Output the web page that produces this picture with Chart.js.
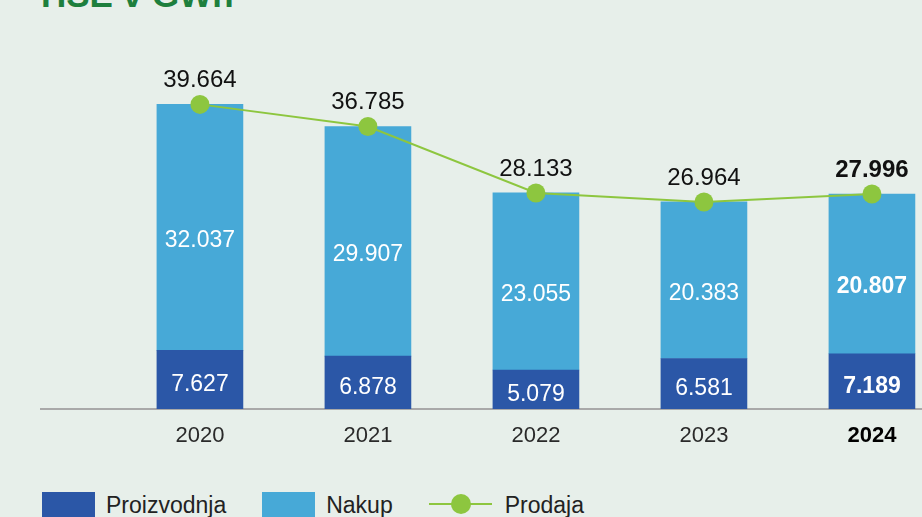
<!DOCTYPE html>
<html>
<head>
<meta charset="utf-8">
<script src="https://cdn.jsdelivr.net/npm/chart.js@4.4.1/dist/chart.umd.min.js"></script>
<style>
  html, body { margin: 0; padding: 0; }
  body { width: 922px; height: 517px; overflow: hidden; background: #e7efea; position: relative;
         font-family: "Liberation Sans", Arial, Helvetica, sans-serif; }
  #title { position: absolute; left: 41px; top: -22.6px; font-size: 35px; line-height: 35px; font-weight: bold;
           color: #1e7f3d; white-space: nowrap; }
  #wrap { position: absolute; left: 0; top: 0; width: 922px; height: 460px; }
  #legend { position: absolute; left: 42px; top: 492px; display: flex; align-items: flex-start; gap: 36px;
            font-size: 23px; color: #222; white-space: nowrap; }
  .item { display: flex; align-items: flex-start; }
  .box { width: 53px; height: 32px; margin-right: 11px; }
  .sym { position: relative; width: 63px; height: 24px; margin-right: 13px; }
  .sym .ln { position: absolute; left: 0; right: 0; top: 11px; height: 2px; }
  .sym .pt { position: absolute; left: 22px; top: 2px; width: 20px; height: 20px; border-radius: 50%; }
  .txt { line-height: 26px; margin-top: 0px; }
</style>
</head>
<body>
<div id="title">HSE v GWh</div>
<div id="wrap"><canvas id="c" width="922" height="460"></canvas></div>
<div id="legend"></div>
<script>
// ---- data ----
const years = [2020, 2021, 2022, 2023, 2024];
const proizvodnja = [7627, 6878, 5079, 6581, 7189];
const nakup = [32037, 29907, 23055, 20383, 20807];
const prodaja = [39664, 36785, 28133, 26964, 27996];
const seriesNames = ['Proizvodnja', 'Nakup', 'Prodaja'];
const highlightYear = 2024;

// ---- styles ----
const DARK = '#2b57a7', LIGHT = '#47a9d7', GREEN = '#8dc63f';
const FONT = '"Liberation Sans", Arial, Helvetica, sans-serif';

const fmt = n => String(n).replace(/\B(?=(\d{3})+(?!\d))/g, '.');
const pts = arr => years.map((y, i) => ({ x: y, y: arr[i] }));

const labelPlugin = {
  id: 'valueLabels',
  afterDatasetsDraw(chart) {
    const ctx = chart.ctx;
    ctx.save();
    ctx.textAlign = 'center';
    ctx.textBaseline = 'middle';
    chart.data.datasets.forEach((ds, di) => {
      const meta = chart.getDatasetMeta(di);
      meta.data.forEach((el, i) => {
        const v = ds.data[i].y;
        const bold = ds.data[i].x === highlightYear;
        if (ds.type === 'line') {
          ctx.fillStyle = '#111';
          ctx.font = (bold ? 'bold ' : '') + '24px ' + FONT;
          ctx.fillText(fmt(v), el.x, el.y - 24);
        } else {
          ctx.fillStyle = '#ffffff';
          ctx.font = (bold ? 'bold ' : '') + '23px ' + FONT;
          const mid = (el.y + el.base) / 2 + (di === 0 ? 5 : 13);
          ctx.fillText(fmt(v), el.x, mid);
        }
      });
    });
    ctx.restore();
  }
};

const chart = new Chart(document.getElementById('c'), {
  data: {
    datasets: [
      { type: 'bar', label: seriesNames[0], data: pts(proizvodnja), backgroundColor: DARK,
        barThickness: 86, order: 2 },
      { type: 'bar', label: seriesNames[1], data: pts(nakup), backgroundColor: LIGHT,
        barThickness: 86, order: 2 },
      { type: 'line', label: seriesNames[2], data: pts(prodaja), borderColor: GREEN, backgroundColor: GREEN,
        borderWidth: 2, tension: 0, pointRadius: 9.5, pointHoverRadius: 9.5, pointBorderWidth: 0,
        pointBackgroundColor: GREEN, stack: 'sales', order: 0, clip: false }
    ]
  },
  options: {
    responsive: false,
    animation: false,
    events: [],
    layout: { autoPadding: false, padding: { left: 41, right: 0, top: 25, bottom: 0 } },
    plugins: { legend: { display: false }, tooltip: { enabled: false } },
    scales: {
      x: {
        type: 'linear', stacked: true, offset: false, min: 2019.054, max: 2024.298,
        grid: { display: false, drawTicks: false },
        border: { display: true, color: '#a9a9a9', width: 2 },
        afterBuildTicks: s => { s.ticks = years.map(v => ({ value: v })); },
        afterFit: s => { s.height = 51; s.paddingLeft = 0; s.paddingRight = 0; },
        ticks: {
          padding: 14,
          color: c => (c.tick && c.tick.value === highlightYear) ? '#000' : '#2a2a2a',
          font: c => ({ family: FONT, size: 22, weight: (c.tick && c.tick.value === highlightYear) ? 'bold' : 'normal' }),
          callback: v => String(v)
        }
      },
      y: { display: false, stacked: true, min: 0, max: 50000 }
    }
  },
  plugins: [labelPlugin]
});

// ---- HTML legend built from the datasets ----
const leg = document.getElementById('legend');
chart.data.datasets.forEach(ds => {
  const item = document.createElement('div');
  item.className = 'item';
  if (ds.type === 'line') {
    item.innerHTML = '<div class="sym"><div class="ln" style="background:' + ds.borderColor +
      '"></div><div class="pt" style="background:' + ds.pointBackgroundColor + '"></div></div>';
  } else {
    item.innerHTML = '<div class="box" style="background:' + ds.backgroundColor + '"></div>';
  }
  const t = document.createElement('div');
  t.className = 'txt';
  t.textContent = ds.label;
  item.appendChild(t);
  leg.appendChild(item);
});
</script>
</body>
</html>
